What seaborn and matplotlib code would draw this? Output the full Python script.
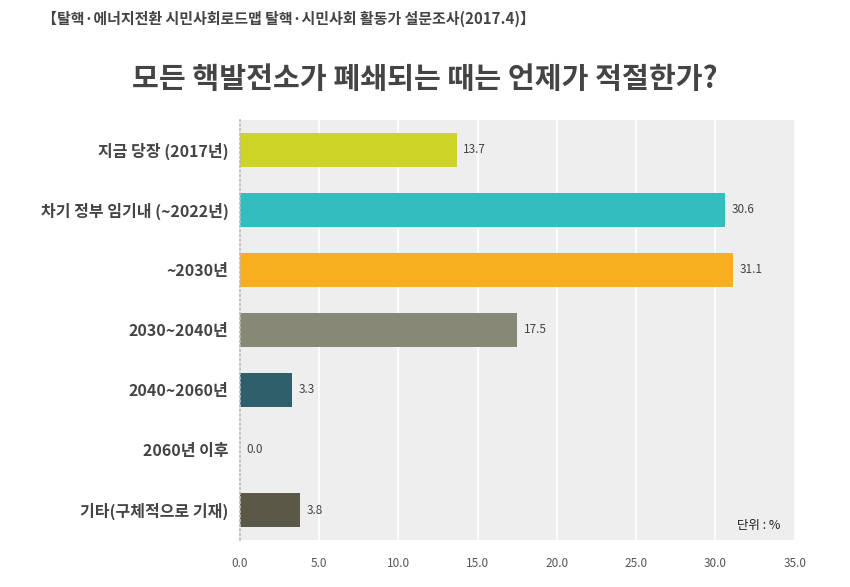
import pandas as pd
import matplotlib.pyplot as plt
import seaborn as sns

# --- 데이터 ---
categories = ['지금 당장 (2017년)', '차기 정부 임기내 (~2022년)', '~2030년',
              '2030~2040년', '2040~2060년', '2060년 이후', '기타(구체적으로 기재)']
values = [13.7, 30.6, 31.1, 17.5, 3.3, 0.0, 3.8]
colors = ['#CDD426', '#33BDBE', '#F6AF1E', '#888876', '#2E5F6B', '#CCCCCC', '#5A5847']
x_ticks = [0, 5, 10, 15, 20, 25, 30, 35]

sns.set_theme(style='whitegrid')
plt.rcParams['font.family'] = ['Noto Sans CJK KR', 'DejaVu Sans']

df = pd.DataFrame({'category': categories, 'value': values})

fig = plt.figure(figsize=(8.5, 5.87), dpi=100)
ax = fig.add_axes([0.282, 0.080, 0.653, 0.716])
ax.set_facecolor('#EEEEEE')

sns.barplot(data=df, y='category', x='value', hue='category', palette=colors,
            legend=False, width=0.57, ax=ax, saturation=1, linewidth=0)

for i, v in enumerate(values):
    ax.text(v + 0.4, i, f'{v:.1f}', va='center', ha='left', fontsize=8.5, color='#444444')

ax.set_xlim(0, 35)
ax.set_xticks(x_ticks)
ax.set_xticklabels([f'{t:.1f}' for t in x_ticks], fontsize=8.5, color='#555555')
ax.tick_params(axis='y', labelsize=11.5, colors='#444444', length=0, pad=8)
ax.tick_params(axis='x', length=0, pad=12)
for lbl in ax.get_yticklabels():
    lbl.set_fontweight('bold')
ax.set_xlabel('')
ax.set_ylabel('')
ax.grid(axis='x', color='white', linewidth=1.2)
ax.grid(axis='y', visible=False)
for s in ['top', 'right', 'bottom']:
    ax.spines[s].set_visible(False)
ax.spines['left'].set_color('#BBBBBB')
ax.spines['left'].set_linestyle(':')

ax.text(0.975, 0.035, '단위 : %', transform=ax.transAxes, ha='right', va='center',
        fontsize=9, color='#222222')

fig.text(0.049, 0.968, '【탈핵·에너지전환 시민사회로드맵 탈핵·시민사회 활동가 설문조사(2017.4)】',
         fontsize=10.8, fontweight='bold', color='#444444', ha='left', va='center')
fig.text(0.50, 0.866, '모든 핵발전소가 폐쇄되는 때는 언제가 적절한가?',
         fontsize=21, fontweight='bold', color='#444444', ha='center', va='center')

plt.savefig('out.png', dpi=100)
